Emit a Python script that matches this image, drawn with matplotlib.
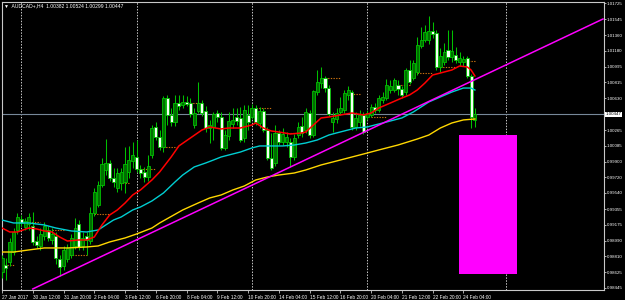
import matplotlib
matplotlib.use('Agg')
import matplotlib.pyplot as plt
import numpy as np

plt.rcParams['font.family'] = ['Liberation Sans', 'DejaVu Sans']

# AUDCAD+ H4 candles, index 0 = 27 Jan 2017 04:00, one entry per 4h bar
opens = [0.98629, 0.98710, 0.98744, 0.98859, 0.99113, 0.99240, 0.99148, 0.99182, 0.99159, 0.98986,
         0.98929, 0.99044, 0.99113, 0.98998, 0.99044, 0.98779, 0.98698, 0.98779, 0.98825, 0.98929,
         0.99182, 0.98929, 0.99044, 0.98986, 0.99309, 0.99401, 0.99632, 0.99805, 0.99886, 0.99713,
         0.99597, 0.99655, 0.99667, 0.99782, 0.99909, 0.99955, 0.99816, 0.99782, 0.99724, 0.99978,
         1.00301, 1.00185, 1.00070, 1.00635, 1.00439, 1.00358, 1.00577, 1.00554, 1.00589, 1.00577,
         1.00324, 1.00485, 1.00577, 1.00485, 1.00289, 1.00301, 1.00462, 1.00416, 1.00059, 1.00197,
         1.00335, 1.00416, 1.00405, 1.00174, 1.00439, 1.00416, 1.00520, 1.00347, 1.00485, 1.00266,
         0.99943, 0.99886, 1.00232, 1.00128, 1.00128, 1.00128, 0.99955, 1.00208, 1.00312, 1.00266,
         1.00462, 1.00208, 1.00704, 1.00808, 1.00866, 1.00750, 1.00358, 1.00393, 1.00474, 1.00497,
         1.00670, 1.00704, 1.00301, 1.00358, 1.00439, 1.00416, 1.00439, 1.00531, 1.00497, 1.00612,
         1.00635, 1.00727, 1.00727, 1.00785, 1.00739, 1.00704, 1.00958, 1.00866, 1.00935, 1.01235,
         1.01304, 1.01304, 1.01408, 1.01385, 1.00993, 1.01050, 1.01189, 1.01108, 1.01131, 1.01050,
         1.01050, 1.01096, 1.00889, 1.00382]
highs = [0.98825, 0.98790, 0.99021, 0.99136, 0.99309, 0.99286, 0.99252, 0.99309, 0.99321, 0.99044,
         0.99136, 0.99205, 0.99159, 0.99136, 0.99090, 0.98825, 0.98929, 0.98952, 0.99067, 0.99252,
         0.99228, 0.99090, 0.99090, 0.99378, 0.99597, 0.99678, 0.99943, 1.00162, 0.99920, 0.99828,
         0.99828, 0.99828, 1.00070, 1.00082, 1.00128, 1.00151, 0.99863, 0.99840, 0.99978, 1.00324,
         1.00358, 1.00266, 1.00658, 1.00670, 1.00520, 1.00670, 1.00670, 1.00670, 1.00658, 1.00635,
         1.00520, 1.00820, 1.00612, 1.00543, 1.00382, 1.00474, 1.00497, 1.00474, 1.00266, 1.00474,
         1.00520, 1.00520, 1.00531, 1.00554, 1.00554, 1.00566, 1.00554, 1.00531, 1.00520, 1.00301,
         1.00232, 1.00324, 1.00266, 1.00289, 1.00243, 1.00174, 1.00220, 1.00358, 1.00416, 1.00520,
         1.00497, 1.00727, 1.00958, 1.00993, 1.00889, 1.00785, 1.00474, 1.00520, 1.00647, 1.00727,
         1.00773, 1.00727, 1.00474, 1.00497, 1.00474, 1.00497, 1.00566, 1.00577, 1.00670, 1.00704,
         1.00854, 1.00843, 1.00866, 1.00843, 1.00773, 1.00981, 1.01073, 1.01073, 1.01338, 1.01454,
         1.01477, 1.01581, 1.01511, 1.01419, 1.01212, 1.01269, 1.01419, 1.01419, 1.01223, 1.01165,
         1.01119, 1.01119, 1.00912, 1.00524]
lows = [0.98560, 0.98537, 0.98698, 0.98825, 0.99067, 0.99159, 0.99113, 0.99113, 0.98940, 0.98906,
        0.98883, 0.98998, 0.98986, 0.98952, 0.98721, 0.98583, 0.98652, 0.98744, 0.98790, 0.98894,
        0.98883, 0.98883, 0.98825, 0.98952, 0.99275, 0.99378, 0.99609, 0.99747, 0.99678, 0.99609,
        0.99551, 0.99574, 0.99540, 0.99713, 0.99828, 0.99782, 0.99713, 0.99667, 0.99678, 0.99943,
        1.00151, 1.00036, 1.00012, 1.00324, 1.00312, 1.00312, 1.00497, 1.00520, 1.00543, 1.00416,
        1.00289, 1.00462, 1.00428, 1.00243, 1.00116, 1.00151, 1.00358, 1.00036, 1.00036, 1.00151,
        1.00289, 1.00324, 1.00128, 1.00128, 1.00266, 1.00393, 1.00324, 1.00289, 1.00243, 0.99920,
        0.99805, 0.99851, 1.00093, 1.00093, 1.00070, 0.99840, 0.99920, 1.00174, 1.00185, 1.00232,
        1.00174, 1.00185, 1.00670, 1.00750, 1.00704, 1.00428, 1.00243, 1.00347, 1.00439, 1.00462,
        1.00612, 1.00266, 1.00266, 1.00312, 1.00220, 1.00382, 1.00416, 1.00462, 1.00474, 1.00577,
        1.00612, 1.00693, 1.00704, 1.00670, 1.00635, 1.00670, 1.00797, 1.00843, 1.00900, 1.01212,
        1.01281, 1.01258, 1.01327, 1.00958, 1.00935, 1.01016, 1.01073, 1.01050, 1.01039, 1.01004,
        1.01004, 1.00866, 1.00289, 1.00299]
closes = [0.98790, 0.98675, 0.98975, 0.99090, 0.99263, 0.99194, 0.99217, 0.99263, 0.98975, 0.98940,
          0.99067, 0.99159, 0.99021, 0.99067, 0.98790, 0.98687, 0.98883, 0.98906, 0.99021, 0.99136,
          0.98917, 0.99021, 0.98998, 0.99309, 0.99551, 0.99632, 0.99874, 0.99886, 0.99713, 0.99667,
          0.99770, 0.99782, 0.99874, 0.99920, 0.99978, 0.99816, 0.99770, 0.99724, 0.99851, 1.00289,
          1.00185, 1.00070, 1.00635, 1.00439, 1.00358, 1.00577, 1.00543, 1.00589, 1.00566, 1.00451,
          1.00462, 1.00577, 1.00462, 1.00289, 1.00324, 1.00451, 1.00416, 1.00059, 1.00208, 1.00370,
          1.00382, 1.00370, 1.00151, 1.00497, 1.00358, 1.00520, 1.00358, 1.00485, 1.00266, 0.99943,
          0.99828, 1.00232, 1.00128, 1.00220, 1.00185, 0.99955, 1.00174, 1.00301, 1.00232, 1.00474,
          1.00208, 1.00716, 1.00820, 1.00866, 1.00750, 1.00451, 1.00405, 1.00462, 1.00520, 1.00693,
          1.00727, 1.00301, 1.00405, 1.00439, 1.00243, 1.00462, 1.00531, 1.00497, 1.00635, 1.00647,
          1.00785, 1.00773, 1.00843, 1.00739, 1.00670, 1.00958, 1.00820, 1.01039, 1.01246, 1.01304,
          1.01396, 1.01408, 1.01373, 1.00993, 1.01119, 1.01165, 1.01108, 1.01177, 1.01073, 1.01096,
          1.01085, 1.00889, 1.00416, 1.00447]

# moving averages (bar index, price)
red_ma_x = [0, 2, 4, 7, 9, 11, 13, 15, 17, 20, 22, 24, 26, 28, 30, 32, 34, 36, 39, 41,
            44, 46, 49, 52, 54, 57, 59, 62, 65, 66, 68, 70, 72, 75, 78, 79, 81, 83, 85, 88,
            91, 94, 96, 98, 101, 104, 106, 108, 110, 112, 114, 117, 119, 121, 122, 123]
red_ma = [0.99136, 0.99090, 0.99090, 0.99136, 0.99125, 0.99102, 0.99090, 0.99032, 0.98986, 0.98998,
          0.98998, 0.99032, 0.99171, 0.99286, 0.99344, 0.99424, 0.99517, 0.99574, 0.99690, 0.99782,
          0.99955, 1.00082, 1.00174, 1.00266, 1.00301, 1.00278, 1.00289, 1.00289, 1.00324, 1.00347,
          1.00289, 1.00255, 1.00243, 1.00220, 1.00232, 1.00243, 1.00324, 1.00405, 1.00416, 1.00439,
          1.00462, 1.00439, 1.00462, 1.00520, 1.00577, 1.00635, 1.00670, 1.00727, 1.00808, 1.00900,
          1.00923, 1.00958, 1.01004, 1.00993, 1.00958, 1.00889]
cyan_ma_x = [0, 3, 7, 11, 14, 18, 22, 25, 27, 29, 31, 34, 36, 39, 42, 45, 47, 50, 53, 55,
             57, 59, 62, 65, 67, 71, 73, 76, 79, 82, 85, 87, 90, 92, 95, 97, 100, 104, 107, 111,
             114, 117, 120, 122, 123]
cyan_ma = [0.99228, 0.99194, 0.99194, 0.99171, 0.99136, 0.99102, 0.99090, 0.99113, 0.99171, 0.99228,
           0.99263, 0.99344, 0.99378, 0.99448, 0.99540, 0.99667, 0.99747, 0.99840, 0.99886, 0.99920,
           0.99955, 0.99978, 1.00012, 1.00059, 1.00082, 1.00082, 1.00082, 1.00093, 1.00116, 1.00151,
           1.00208, 1.00232, 1.00266, 1.00289, 1.00301, 1.00324, 1.00358, 1.00405, 1.00474, 1.00589,
           1.00647, 1.00704, 1.00750, 1.00750, 1.00727]
yellow_ma_x = [0, 3, 7, 11, 17, 22, 25, 28, 32, 35, 39, 41, 47, 51, 54, 57, 60, 63, 66, 69,
               72, 76, 79, 83, 86, 90, 92, 94, 98, 103, 108, 111, 114, 117, 120, 123]
yellow_ma = [0.98859, 0.98859, 0.98883, 0.98906, 0.98906, 0.98917, 0.98929, 0.98975, 0.99021, 0.99067,
             0.99136, 0.99194, 0.99344, 0.99424, 0.99482, 0.99517, 0.99574, 0.99620, 0.99690, 0.99724,
             0.99747, 0.99770, 0.99805, 0.99863, 0.99897, 0.99943, 0.99966, 0.99989, 1.00036, 1.00093,
             1.00162, 1.00208, 1.00289, 1.00347, 1.00382, 1.00393]

# short dotted levels (start bar, end bar, price)
level_start = [-1, 7, 13, 17, 24, 30, 36, 42, 49, 66, 75, 84, 90, 96, 103, 108, 114, 120]
level_end = [3, 10, 16, 22, 28, 33, 40, 46, 52, 70, 77, 88, 93, 100, 106, 112, 118, 123]
level_price = [0.98710, 0.99205, 0.99113, 0.98825, 0.99298, 0.99655, 0.99816, 1.00070, 1.00577,
               1.00520, 1.00232, 1.00866, 1.00681, 1.00416, 1.00785, 1.00923, 1.00993, 1.01062]

# drawn objects
trend_x = [8.0, 156.3]
trend_y = [0.98433, 1.01546]
box_x = [118.9, 134.0]
box_y = [0.98603, 1.00205]
separators = [5, 35, 65, 95, 131]
bid = 1.00447

time_ticks = [0, 8, 16, 24, 32, 40, 48, 56, 64, 72, 80, 88, 96, 104, 112, 120]
time_labels = ['27 Jan 2017', '30 Jan 12:00', '31 Jan 20:00', '2 Feb 04:00', '3 Feb 12:00',
               '6 Feb 20:00', '8 Feb 04:00', '9 Feb 12:00', '10 Feb 20:00', '14 Feb 04:00',
               '15 Feb 12:00', '16 Feb 20:00', '20 Feb 04:00', '21 Feb 12:00', '22 Feb 20:00',
               '24 Feb 04:00']
price_ticks = [1.01725, 1.01545, 1.01360, 1.01180, 1.00995, 1.00815, 1.00630, 1.00265, 1.00085,
               0.99900, 0.99720, 0.99540, 0.99355, 0.99175, 0.98990, 0.98810, 0.98625, 0.98445]

fg = '#c8c8c8'
green = '#00c000'

fig = plt.figure(figsize=(6.25, 3.0), dpi=100, facecolor='black')
ax = fig.add_axes([2 / 625, 10 / 300, 602 / 625, 288 / 300], facecolor='black')

idx = np.arange(len(opens))
o = np.array(opens)
c = np.array(closes)
bull = c >= o

for x in separators:
    ax.axvline(x, color=fg, lw=0.7, ls=(0, (1.5, 1.5)), zorder=1)
ax.axhline(bid, color='#778899', lw=0.8, zorder=1)
ax.fill_between(box_x, box_y[0], box_y[1], color='#ff00ff', lw=0, zorder=2)
ax.hlines(level_price, level_start, level_end, colors='#c87010', lw=0.8,
          linestyles=(0, (1.2, 1.2)), zorder=2)

ax.vlines(idx, lows, highs, color=green, lw=0.75, zorder=3)
ax.bar(idx, c - o, bottom=o, width=0.8, color=np.where(bull, '#006e00', '#f4fff4'),
       edgecolor=green, linewidth=0.6, zorder=4)

ax.plot(yellow_ma_x, yellow_ma, color='#ffd700', lw=1.0, zorder=5)
ax.plot(cyan_ma_x, cyan_ma, color='#00ced1', lw=1.0, zorder=5)
ax.plot(red_ma_x, red_ma, color='#ff0000', lw=1.1, zorder=5)
ax.plot(trend_x, trend_y, color='#ff00ff', lw=1.1, zorder=6)

ax.set_xlim(0.21, 156.57)
ax.set_ylim(0.98421, 1.01742)

for s in ax.spines.values():
    s.set_color(fg)
    s.set_linewidth(0.8)

ax.yaxis.tick_right()
ax.set_yticks(price_ticks)
ax.set_yticklabels([f'{p:.5f}' for p in price_ticks])
ax.set_xticks(time_ticks)
ax.set_xticklabels(time_labels, ha='left')
ax.tick_params(axis='both', colors=fg, labelcolor='white', width=0.6)
ax.tick_params(axis='y', labelsize=3.2, length=1.5, pad=0.5)
ax.tick_params(axis='x', labelsize=3.4, length=2.5, pad=1)

ax.text(1.0025, bid, f'{bid:.5f}', transform=ax.get_yaxis_transform(), fontsize=3.2,
        color='black', va='center', ha='left',
        bbox=dict(facecolor='white', edgecolor='none', pad=0.5))

fig.text(4 / 625, 1 - 6 / 300, '▼  AUDCAD+,H4  1.00382 1.00524 1.00299 1.00447',
         color='white', fontsize=3.6, va='center', ha='left')

fig.savefig('out.png', dpi=100, facecolor='black')
